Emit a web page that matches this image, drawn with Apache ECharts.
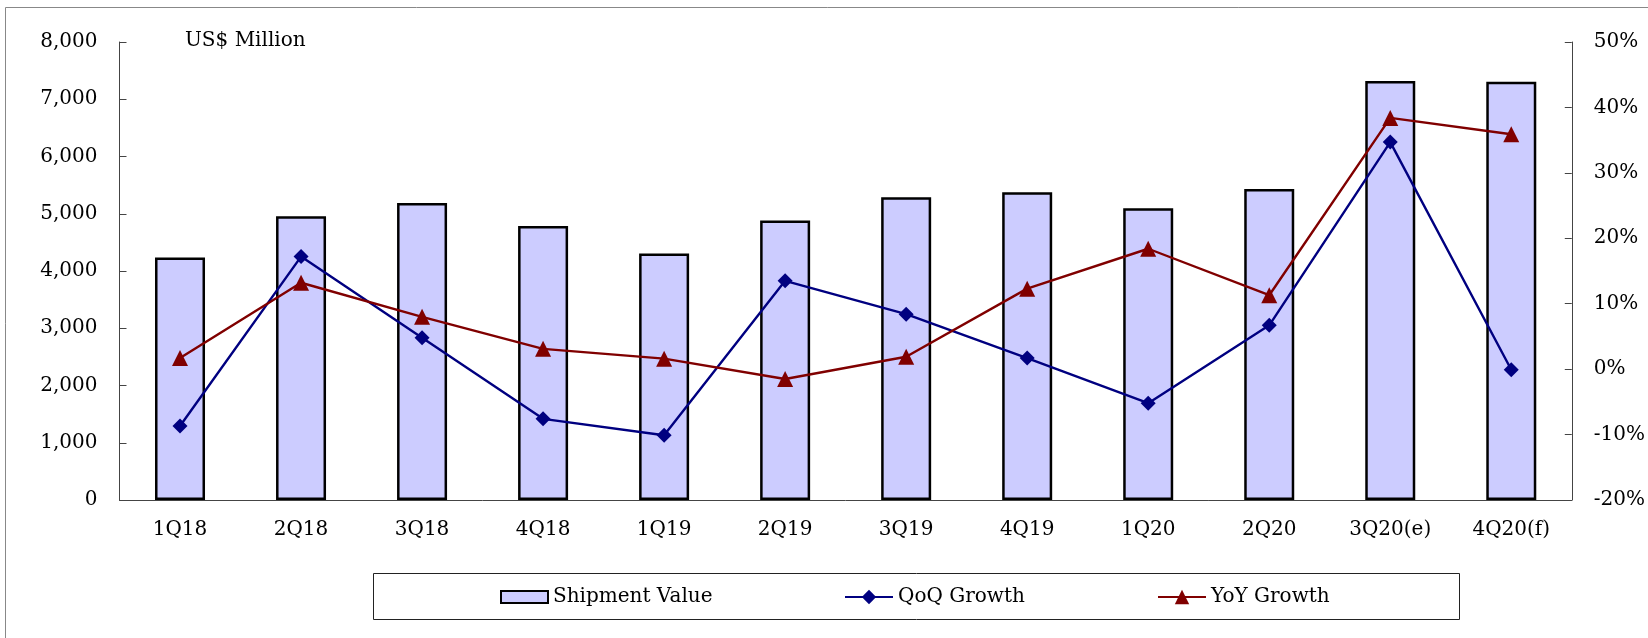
<!DOCTYPE html>
<html>
<head>
<meta charset="utf-8">
<script src="https://cdn.jsdelivr.net/npm/echarts@6/dist/echarts.min.js"></script>
<style>
html,body{margin:0;padding:0;background:#fff;}
#chart{width:1648px;height:638px;}
</style>
</head>
<body>
<div id="chart"></div>
<script>
const categories = ['1Q18','2Q18','3Q18','4Q18','1Q19','2Q19','3Q19','4Q19','1Q20','2Q20','3Q20(e)','4Q20(f)'];
const shipmentValue = [4235, 4956, 5189, 4788, 4305, 4881, 5288, 5375, 5096, 5433, 7318, 7307];
const qoqGrowth = [-8.7, 17.2, 4.8, -7.6, -10.1, 13.5, 8.4, 1.7, -5.2, 6.7, 34.7, -0.1];
const yoyGrowth = [1.7, 13.2, 8.0, 3.1, 1.6, -1.5, 1.9, 12.3, 18.4, 11.3, 38.4, 35.9];
const unitLabel = 'US$ Million';

const FONT = '"DejaVu Serif", "Liberation Serif", serif';
const chart = echarts.init(document.getElementById('chart'), null, {renderer: 'canvas'});
const axisLineColor = '#444';
const textStyle = {fontFamily: FONT, fontSize: 20, color: '#000'};

chart.setOption({
  backgroundColor: '#fff',
  animation: false,
  textStyle: textStyle,
  grid: {left: 119.5, right: 71, top: 42, bottom: 138, containLabel: false},
  graphic: [
    {type: 'rect', shape: {x: 5.5, y: 7.5, width: 1700, height: 700}, style: {fill: 'none', stroke: '#888', lineWidth: 1}, z: -10, silent: true},
    {type: 'rect', shape: {x: 373.5, y: 573.5, width: 1086, height: 46}, style: {fill: '#fff', stroke: '#222', lineWidth: 1}, z: -5, silent: true},
    {type: 'text', left: 185, top: 31, style: {text: unitLabel, font: '20px ' + FONT, fill: '#000'}, silent: true}
  ],
  legend: [
    {data: [{name: 'Shipment Value', icon: 'rect'}], left: 500, top: 587, padding: 0, itemWidth: 47, itemHeight: 12, textStyle: textStyle, selectedMode: false},
    {data: ['QoQ Growth'], left: 844, top: 587, padding: 0, itemWidth: 48, itemHeight: 18, textStyle: textStyle, selectedMode: false},
    {data: ['YoY Growth'], left: 1157, top: 587, padding: 0, itemWidth: 48, itemHeight: 18, textStyle: textStyle, selectedMode: false}
  ],
  xAxis: {
    type: 'category',
    data: categories,
    boundaryGap: true,
    axisLine: {lineStyle: {color: axisLineColor, width: 1}},
    axisTick: {inside: true, length: 7, lineStyle: {color: axisLineColor}},
    axisLabel: {fontFamily: FONT, fontSize: 20, color: '#000', margin: 20}
  },
  yAxis: [
    {
      type: 'value', min: 0, max: 8000, interval: 1000,
      splitLine: {show: false},
      axisLine: {show: true, lineStyle: {color: axisLineColor, width: 1}},
      axisTick: {show: true, inside: true, length: 7, lineStyle: {color: axisLineColor}},
      axisLabel: {fontFamily: FONT, fontSize: 20, color: '#000', margin: 22,
        formatter: v => v.toLocaleString('en-US')}
    },
    {
      type: 'value', min: -20, max: 50, interval: 10, position: 'right',
      splitLine: {show: false},
      axisLine: {show: true, lineStyle: {color: axisLineColor, width: 1}},
      axisTick: {show: true, inside: true, length: 7, lineStyle: {color: axisLineColor}},
      axisLabel: {fontFamily: FONT, fontSize: 20, color: '#000', margin: 22, formatter: '{value}%'}
    }
  ],
  series: [
    {
      name: 'Shipment Value', type: 'bar', data: shipmentValue, yAxisIndex: 0,
      barWidth: 50,
      itemStyle: {color: '#CCCCFF', borderColor: '#000', borderWidth: 2.5}
    },
    {
      name: 'QoQ Growth', type: 'line', data: qoqGrowth, yAxisIndex: 1,
      symbol: 'diamond', symbolSize: 15, showAllSymbol: true,
      lineStyle: {color: '#000080', width: 2.4},
      itemStyle: {color: '#000080'}, z: 3
    },
    {
      name: 'YoY Growth', type: 'line', data: yoyGrowth, yAxisIndex: 1,
      symbol: 'triangle', symbolSize: 16, showAllSymbol: true,
      lineStyle: {color: '#800000', width: 2.4},
      itemStyle: {color: '#800000'}, z: 4
    }
  ]
});
</script>
</body>
</html>
